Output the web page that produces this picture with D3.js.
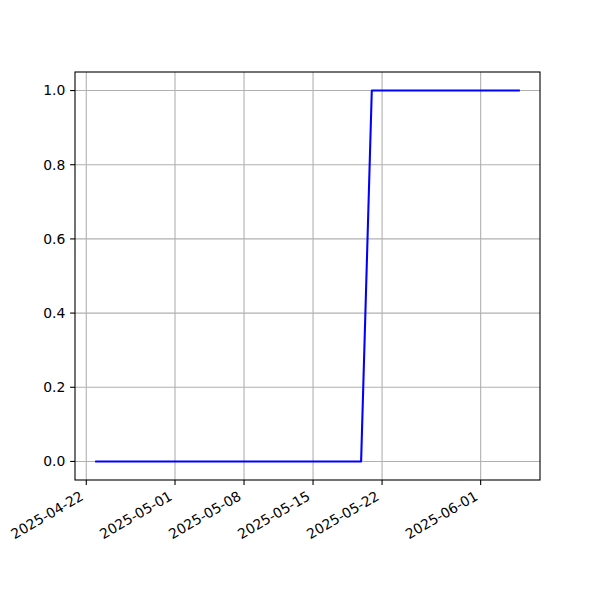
<!DOCTYPE html>
<html><head><meta charset="utf-8">
<script src="https://cdn.jsdelivr.net/npm/d3@7"></script>
<style>body{margin:0;background:#fff}svg{display:block}text{font-family:"DejaVu Sans",sans-serif;font-size:13.9px;fill:#000}</style>
</head><body><svg id="c" width="600" height="600"></svg>
<script>
const dates = ["2025-04-23T00:00","2025-04-24T00:00","2025-04-25T00:00","2025-04-26T00:00","2025-04-27T00:00","2025-04-28T00:00",
"2025-04-29T00:00","2025-04-30T00:00","2025-05-01T00:00","2025-05-02T00:00","2025-05-03T00:00","2025-05-04T00:00",
"2025-05-05T00:00","2025-05-06T00:00","2025-05-07T00:00","2025-05-08T00:00","2025-05-09T00:00","2025-05-10T00:00",
"2025-05-11T00:00","2025-05-12T00:00","2025-05-13T00:00","2025-05-14T00:00","2025-05-15T00:00","2025-05-16T00:00",
"2025-05-17T00:00","2025-05-18T00:00","2025-05-19T00:00","2025-05-19T21:00","2025-05-20T23:00","2025-05-21T23:00",
"2025-05-22T23:00","2025-05-23T23:00","2025-05-24T23:00","2025-05-25T23:00","2025-05-26T23:00","2025-05-27T23:00",
"2025-05-28T23:00","2025-05-29T23:00","2025-05-30T23:00","2025-05-31T23:00","2025-06-01T23:00","2025-06-02T23:00",
"2025-06-03T23:00","2025-06-04T21:00"];
const values = [0,0,0,0,0,0,0,0,0,0,0,0,0,0,0,0,0,0,0,0,0,0,0,0,0,0,0,0,
1,1,1,1,1,1,1,1,1,1,1,1,1,1,1,1];
const xTickLabels = ["2025-04-22","2025-05-01","2025-05-08","2025-05-15","2025-05-22","2025-06-01"];
const yTickValues = [0.0,0.2,0.4,0.6,0.8,1.0];

const svg = d3.select("#c");
const L=75,R=540,T=72,B=480;
const parse = d3.utcParse("%Y-%m-%dT%H:%M");
const parseDay = d3.utcParse("%Y-%m-%d");
const pts = dates.map((d,i)=>({d:parse(d),v:values[i]}));
const x0 = pts[0].d, x1 = pts[pts.length-1].d;
const span = x1 - x0;
const x = d3.scaleUtc().domain([new Date(+x0 - span*0.05), new Date(+x1 + span*0.05)]).range([L,R]);
const y = d3.scaleLinear().domain([-0.05,1.05]).range([B,T]);
const xt = xTickLabels.map(parseDay);

// grid
const g = svg.append("g");
g.selectAll("line.gx").data(xt).join("line").attr("x1",d=>x(d)).attr("x2",d=>x(d)).attr("y1",T).attr("y2",B)
 .attr("stroke","#b0b0b0").attr("stroke-width",1.1);
g.selectAll("line.gy").data(yTickValues).join("line").attr("y1",d=>y(d)).attr("y2",d=>y(d)).attr("x1",L).attr("x2",R)
 .attr("stroke","#b0b0b0").attr("stroke-width",1.1);

// line
svg.append("path").datum(pts).attr("fill","none").attr("stroke","#0000ff").attr("stroke-width",2.08)
 .attr("stroke-linejoin","round").attr("stroke-linecap","square")
 .attr("d", d3.line().x(d=>x(d.d)).y(d=>y(d.v)));

// frame
svg.append("rect").attr("x",L).attr("y",T).attr("width",R-L).attr("height",B-T).attr("fill","none").attr("stroke","#000").attr("stroke-width",1.1);

// x axis ticks
const xa = svg.append("g");
xa.selectAll("line").data(xt).join("line").attr("x1",d=>x(d)).attr("x2",d=>x(d)).attr("y1",B).attr("y2",B+4.9).attr("stroke","#000").attr("stroke-width",1.1);
xa.selectAll("text").data(xt).join("text")
 .attr("transform",d=>`translate(${x(d)-7},${B+10}) rotate(-30)`)
 .attr("text-anchor","end").attr("dominant-baseline","hanging")
 .text((d,i)=>xTickLabels[i]);

// y axis ticks
const ya = svg.append("g");
ya.selectAll("line").data(yTickValues).join("line").attr("y1",d=>y(d)).attr("y2",d=>y(d)).attr("x1",L-4.9).attr("x2",L).attr("stroke","#000").attr("stroke-width",1.1);
ya.selectAll("text").data(yTickValues).join("text").attr("x",L-9.7).attr("y",d=>y(d)).attr("dy","0.35em")
 .attr("text-anchor","end").text(d=>d.toFixed(1));
</script></body></html>
